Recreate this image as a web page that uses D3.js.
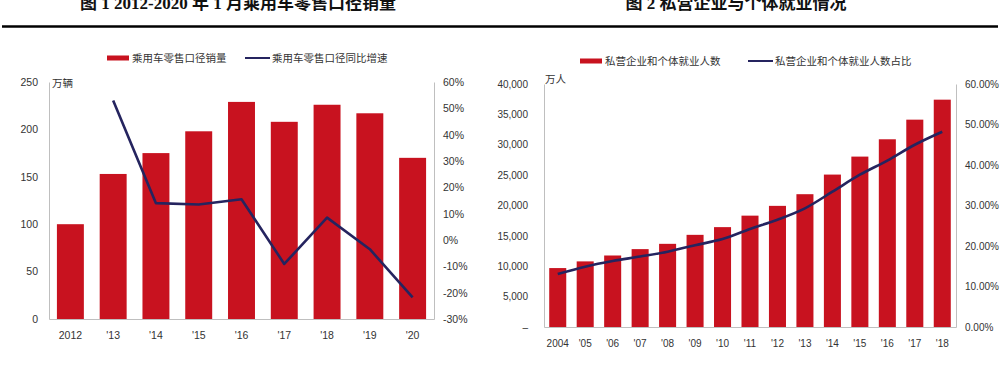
<!DOCTYPE html>
<html>
<head>
<meta charset="utf-8">
<script src="https://cdn.jsdelivr.net/npm/d3@7"></script>
<style>
body { margin: 0; background: #fff; }
text { font-family: "Liberation Sans", Arial, "Noto Sans CJK SC", sans-serif; fill: #333; }
.cjk { font-family: "Noto Sans CJK SC", sans-serif; }
.axis path, .axis line { stroke: #bfbfbf; }
</style>
</head>
<body>
<svg id="chart" width="1004" height="371"></svg>
<script>
// chart 1: passenger car retail sales, January of each year
var salesYears = ["2012", "'13", "'14", "'15", "'16", "'17", "'18", "'19", "'20"];
var salesVolume = [100, 153, 175, 198, 229, 208, 226, 217, 170];
var salesGrowth = [null, 53, 14, 13.5, 15.5, -9.1, 8.5, -3.5, -21.8];
var salesLeftTicks = [0, 50, 100, 150, 200, 250];
var salesRightTicks = [-30, -20, -10, 0, 10, 20, 30, 40, 50, 60];

// chart 2: private enterprise and self-employed workers
var empYears = ["2004", "'05", "'06", "'07", "'08", "'09", "'10", "'11", "'12", "'13", "'14", "'15", "'16", "'17", "'18"];
var empCount = [9700, 10800, 11770, 12820, 13690, 15170, 16440, 18330, 19940, 21860, 25090, 28050, 30900, 34130, 37420];
var empShare = [13.1, 14.9, 16.3, 17.4, 18.6, 20.2, 21.7, 24.2, 26.5, 29.3, 33.4, 37.6, 41.1, 45.0, 48.2];
var empLeftTicks = [0, 5000, 10000, 15000, 20000, 25000, 30000, 35000, 40000];
var empRightTicks = [0, 10, 20, 30, 40, 50, 60];

var red = "#c8121f";
var navy = "#25245f";

var svg = d3.select("#chart");

// titles (cut off at the top) and the rule under them
svg.append("text")
  .attr("x", 238).attr("y", 9)
  .attr("text-anchor", "middle")
  .style("font-family", '"Liberation Serif", "Noto Sans CJK SC", serif')
  .style("font-weight", "bold").style("font-size", "17px").style("fill", "#111")
  .text("图 1 2012-2020 年 1 月乘用车零售口径销量");
svg.append("text")
  .attr("x", 736).attr("y", 9)
  .attr("text-anchor", "middle")
  .style("font-family", '"Liberation Serif", "Noto Sans CJK SC", serif')
  .style("font-weight", "bold").style("font-size", "17px").style("fill", "#111")
  .text("图 2 私营企业与个体就业情况");
svg.append("line")
  .attr("x1", 2).attr("x2", 998).attr("y1", 26.5).attr("y2", 26.5)
  .attr("stroke", "#000").attr("stroke-width", 2.5);

function legend(x, y, barLabel, lineLabel, gap) {
  var g = svg.append("g").attr("transform", "translate(" + x + "," + y + ")");
  g.append("rect").attr("x", 0).attr("y", -2.5).attr("width", 22).attr("height", 5).attr("fill", red);
  g.append("text").attr("class", "cjk").attr("x", 25).attr("y", 4)
    .style("font-size", "10.5px").text(barLabel);
  g.append("line").attr("x1", gap).attr("x2", gap + 25).attr("y1", 0).attr("y2", 0)
    .attr("stroke", navy).attr("stroke-width", 2);
  g.append("text").attr("class", "cjk").attr("x", gap + 27).attr("y", 4)
    .style("font-size", "10.5px").text(lineLabel);
}

function styleTicks(g, size) {
  g.selectAll("text").style("font-size", size).style("fill", "#333");
}

// ---------- chart 1 ----------
var x1 = d3.scaleBand().domain(salesYears).range([49, 434]).paddingInner(0.37).paddingOuter(0.185);
var y1 = d3.scaleLinear().domain([0, 250]).range([319, 82]);
var y1r = d3.scaleLinear().domain([-30, 60]).range([319, 82]);

legend(107, 58, "乘用车零售口径销量", "乘用车零售口径同比增速", 138);

svg.append("g").selectAll("rect")
  .data(salesVolume)
  .enter().append("rect")
    .attr("x", function(d, i) { return x1(salesYears[i]); })
    .attr("width", x1.bandwidth())
    .attr("y", function(d) { return y1(d); })
    .attr("height", function(d) { return y1(0) - y1(d); })
    .attr("fill", red);

var ax1 = svg.append("g").attr("class", "axis").attr("transform", "translate(49,0)")
  .call(d3.axisLeft(y1).tickValues(salesLeftTicks).tickSize(0).tickPadding(11));
styleTicks(ax1, "10.5px");
var ax1r = svg.append("g").attr("class", "axis").attr("transform", "translate(434,0)")
  .call(d3.axisRight(y1r).tickValues(salesRightTicks).tickSize(0).tickPadding(9)
    .tickFormat(function(d) { return d + "%"; }));
styleTicks(ax1r, "10.5px");
var ax1b = svg.append("g").attr("class", "axis").attr("transform", "translate(0,319)")
  .call(d3.axisBottom(x1).tickSize(0).tickSizeOuter(0).tickPadding(13));
styleTicks(ax1b, "10.5px");

svg.append("text").attr("class", "cjk").attr("x", 52).attr("y", 87)
  .style("font-size", "10.5px").text("万辆");

var line1 = d3.line()
  .defined(function(d) { return d != null; })
  .x(function(d, i) { return x1(salesYears[i]) + x1.bandwidth() / 2; })
  .y(function(d) { return y1r(d); });
svg.append("path").datum(salesGrowth)
  .attr("d", line1).attr("fill", "none")
  .attr("stroke", navy).attr("stroke-width", 2.6).attr("stroke-linejoin", "round");

// ---------- chart 2 ----------
var x2 = d3.scaleBand().domain(empYears).range([544, 956]).paddingInner(0.38).paddingOuter(0.19);
var y2 = d3.scaleLinear().domain([0, 40000]).range([327, 84]);
var y2r = d3.scaleLinear().domain([0, 60]).range([327, 84]);

legend(580, 61, "私营企业和个体就业人数", "私营企业和个体就业人数占比", 168);

svg.append("g").selectAll("rect")
  .data(empCount)
  .enter().append("rect")
    .attr("x", function(d, i) { return x2(empYears[i]); })
    .attr("width", x2.bandwidth())
    .attr("y", function(d) { return y2(d); })
    .attr("height", function(d) { return y2(0) - y2(d); })
    .attr("fill", red);

var ax2 = svg.append("g").attr("class", "axis").attr("transform", "translate(544,0)")
  .call(d3.axisLeft(y2).tickValues(empLeftTicks).tickSize(0).tickPadding(16)
    .tickFormat(function(d) { return d === 0 ? "–" : d3.format(",")(d); }));
styleTicks(ax2, "10px");
var ax2r = svg.append("g").attr("class", "axis").attr("transform", "translate(956,0)")
  .call(d3.axisRight(y2r).tickValues(empRightTicks).tickSize(0).tickPadding(9)
    .tickFormat(function(d) { return d.toFixed(2) + "%"; }));
styleTicks(ax2r, "10px");
var ax2b = svg.append("g").attr("class", "axis").attr("transform", "translate(0,327)")
  .call(d3.axisBottom(x2).tickSize(0).tickSizeOuter(0).tickPadding(13));
styleTicks(ax2b, "10px");

svg.append("text").attr("class", "cjk").attr("x", 545).attr("y", 83)
  .style("font-size", "10.5px").text("万人");

var line2 = d3.line()
  .curve(d3.curveCatmullRom)
  .x(function(d, i) { return x2(empYears[i]) + x2.bandwidth() / 2; })
  .y(function(d) { return y2r(d); });
svg.append("path").datum(empShare)
  .attr("d", line2).attr("fill", "none")
  .attr("stroke", navy).attr("stroke-width", 2.6);
</script>
</body>
</html>
